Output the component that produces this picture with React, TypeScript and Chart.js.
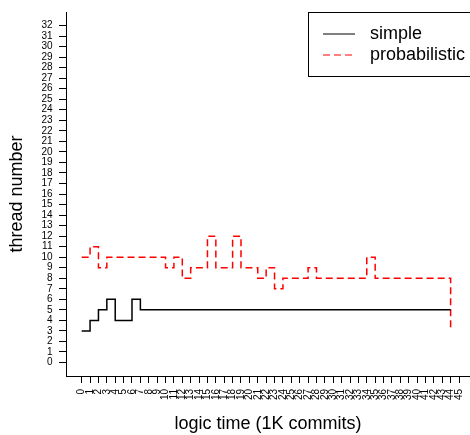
import React, { useEffect, useRef } from 'react';
import { Chart, registerables } from 'chart.js';

Chart.register(...registerables);

// logic time points (1K commits)
const timePoints = [
  0, 1, 2, 3, 4, 5, 6, 7, 8, 9, 10, 11, 12, 13, 14, 15, 16, 17, 18, 19, 20, 21,
  22, 23, 24, 25, 26, 27, 28, 29, 30, 31, 32, 33, 34, 35, 36, 37, 38, 39, 40, 41,
  42, 43, 44,
];

const simpleThreads = [
  3, 4, 5, 6, 4, 4, 6, 5, 5, 5, 5, 5, 5, 5, 5, 5, 5, 5, 5, 5, 5, 5,
  5, 5, 5, 5, 5, 5, 5, 5, 5, 5, 5, 5, 5, 5, 5, 5, 5, 5, 5, 5,
  5, 5, 5,
];

const probabilisticThreads = [
  10, 11, 9, 10, 10, 10, 10, 10, 10, 10, 9, 10, 8, 9, 9, 12, 9, 9, 12, 9, 9, 8,
  9, 7, 8, 8, 8, 9, 8, 8, 8, 8, 8, 8, 10, 8, 8, 8, 8, 8, 8, 8,
  8, 8, 3,
];

const seriesNames = ['simple', 'probabilistic'];

const xTickValues = [
  0, 1, 2, 3, 4, 5, 6, 7, 8, 9, 10, 11, 12, 13, 14, 15, 16, 17, 18, 19, 20, 21,
  22, 23, 24, 25, 26, 27, 28, 29, 30, 31, 32, 33, 34, 35, 36, 37, 38, 39, 40, 41,
  42, 43, 44, 45,
];

const yTickValues = [
  0, 1, 2, 3, 4, 5, 6, 7, 8, 9, 10, 11, 12, 13, 14, 15, 16, 17, 18, 19, 20, 21,
  22, 23, 24, 25, 26, 27, 28, 29, 30, 31, 32,
];

const xTitle = 'logic time (1K commits)';
const yTitle = 'thread number';

const FONT = "'Liberation Sans', Arial, Helvetica, sans-serif";

export default function App() {
  const ref = useRef<HTMLCanvasElement>(null);

  useEffect(() => {
    if (!ref.current) return;

    const legendPlugin = {
      id: 'rLegend',
      afterDraw(chart: any) {
        const ctx = chart.ctx as CanvasRenderingContext2D;
        ctx.save();
        ctx.strokeStyle = 'black';
        ctx.lineWidth = 1;
        ctx.setLineDash([]);
        ctx.strokeRect(308.5, 12.5, 200, 64);
        chart.data.datasets.forEach((ds: any, i: number) => {
          const y = 34 + i * 21;
          ctx.beginPath();
          ctx.setLineDash(ds.borderDash || []);
          ctx.strokeStyle = ds.borderColor;
          ctx.lineWidth = 1;
          ctx.moveTo(323, y);
          ctx.lineTo(355, y);
          ctx.stroke();
          ctx.setLineDash([]);
          ctx.fillStyle = 'black';
          ctx.font = `18px ${FONT}`;
          ctx.textBaseline = 'middle';
          ctx.textAlign = 'left';
          ctx.fillText(ds.label, 370, y);
        });
        ctx.restore();
      },
    };

    const chart = new Chart(ref.current, {
      type: 'line',
      data: {
        datasets: [
          {
            label: seriesNames[0],
            data: timePoints.map((t, i) => ({ x: t, y: simpleThreads[i] })),
            borderColor: 'black',
            borderWidth: 1.5,
            stepped: true,
            pointRadius: 0,
            fill: false,
          },
          {
            label: seriesNames[1],
            data: timePoints.map((t, i) => ({ x: t, y: probabilisticThreads[i] })),
            borderColor: 'red',
            borderWidth: 1.5,
            borderDash: [7, 4],
            stepped: true,
            pointRadius: 0,
            fill: false,
          },
        ],
      },
      options: {
        animation: false,
        responsive: false,
        devicePixelRatio: 1,
        layout: { padding: { top: 12, left: 0, right: 0, bottom: 0 } },
        plugins: {
          legend: { display: false },
          tooltip: { enabled: false },
        },
        scales: {
          x: {
            type: 'linear',
            min: -1.87,
            max: 46.31,
            afterBuildTicks: (s: any) => {
              s.ticks = xTickValues.map((v) => ({ value: v }));
            },
            afterFit: (s: any) => {
              s.height = 59;
              s.paddingLeft = 0;
              s.paddingRight = 0;
            },
            ticks: {
              autoSkip: false,
              maxRotation: 90,
              minRotation: 90,
              padding: 6,
              color: 'black',
              font: { size: 10, family: FONT },
              callback: (v: any) => String(v),
            },
            grid: { drawOnChartArea: false, tickLength: 7, color: 'black', lineWidth: 1 },
            border: { display: true, color: 'black', width: 1 },
            title: {
              display: true,
              text: xTitle,
              color: 'black',
              font: { size: 18, family: FONT },
              padding: { top: 0, bottom: 0 },
            },
          },
          y: {
            type: 'linear',
            min: -1.28,
            max: 33.28,
            afterBuildTicks: (s: any) => {
              s.ticks = yTickValues.map((v) => ({ value: v }));
            },
            afterFit: (s: any) => {
              s.width = 66;
              s.paddingTop = 0;
              s.paddingBottom = 0;
            },
            ticks: {
              autoSkip: false,
              padding: 6.5,
              color: 'black',
              font: { size: 10, family: FONT },
              callback: (v: any) => String(v),
            },
            grid: { drawOnChartArea: false, tickLength: 7, color: 'black', lineWidth: 1 },
            border: { display: true, color: 'black', width: 1 },
            title: {
              display: true,
              text: yTitle,
              color: 'black',
              font: { size: 18, family: FONT },
              padding: { top: 6, bottom: 0 },
            },
          },
        },
      },
      plugins: [legendPlugin],
    } as any);

    return () => chart.destroy();
  }, []);

  return (
    <div style={{ position: 'absolute', left: 0, top: 0, width: 470, height: 435, background: 'white' }}>
      <canvas ref={ref} width={470} height={435} style={{ display: 'block' }} />
    </div>
  );
}
